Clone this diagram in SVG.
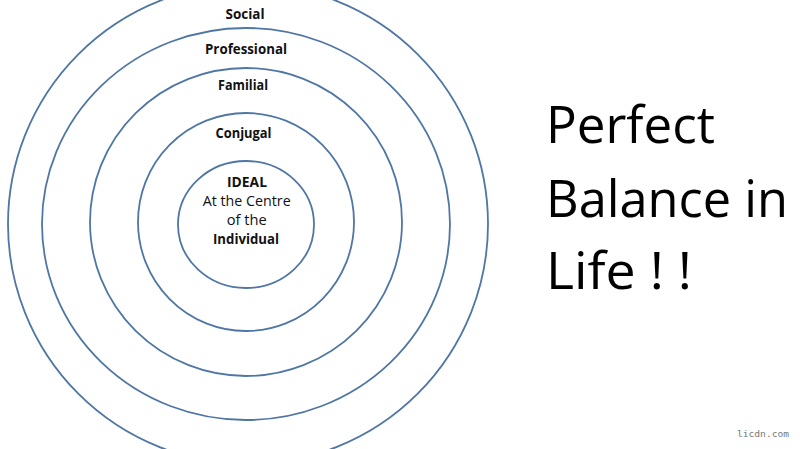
<svg xmlns="http://www.w3.org/2000/svg" width="800" height="449" viewBox="0 0 800 449">
<style>
.ring{fill:none;stroke:#4f76a4;stroke-width:1.8}
.lbl{font-family:"Open Sans","Liberation Sans",sans-serif;font-size:14px;fill:#111;text-anchor:middle}
.b{font-weight:bold}
.big{font-family:"Open Sans","Liberation Sans",sans-serif;font-size:52px;fill:#000}
.wm{font-family:"DejaVu Sans Mono",monospace;font-size:9px;fill:#777}
</style>
<rect width="800" height="449" fill="#fff"/>
<g id="social"><ellipse class="ring" cx="248" cy="224" rx="240" ry="240"/><text class="lbl b" x="245" y="19" textLength="39" lengthAdjust="spacingAndGlyphs">Social</text></g>
<g id="professional"><ellipse class="ring" cx="246" cy="224" rx="204" ry="196"/><text class="lbl b" x="246" y="54" textLength="82" lengthAdjust="spacingAndGlyphs">Professional</text></g>
<g id="familial"><ellipse class="ring" cx="246" cy="222" rx="156" ry="154"/><text class="lbl b" x="243" y="90" textLength="50" lengthAdjust="spacingAndGlyphs">Familial</text></g>
<g id="conjugal"><ellipse class="ring" cx="246" cy="222" rx="108" ry="109"/><text class="lbl b" x="243.5" y="138" textLength="56" lengthAdjust="spacingAndGlyphs">Conjugal</text></g>
<g id="ideal"><ellipse class="ring" cx="246" cy="224.5" rx="68" ry="63.5"/>
<text class="lbl b" x="247" y="187" textLength="40" lengthAdjust="spacingAndGlyphs">IDEAL</text>
<text class="lbl" x="246.7" y="206" textLength="88" lengthAdjust="spacingAndGlyphs">At the Centre</text>
<text class="lbl" x="246.7" y="225" textLength="40" lengthAdjust="spacingAndGlyphs">of the</text>
<text class="lbl b" x="246" y="244" textLength="66" lengthAdjust="spacingAndGlyphs">Individual</text></g>
<g id="title">
<text class="big" x="546" y="143" textLength="169" lengthAdjust="spacingAndGlyphs">Perfect</text>
<text class="big" x="546" y="216.5" textLength="242" lengthAdjust="spacingAndGlyphs">Balance in</text>
<text class="big" x="546" y="289" textLength="146" lengthAdjust="spacingAndGlyphs">Life ! !</text>
</g>
<g id="connectors"/>
<text class="wm" x="737" y="437" textLength="52" lengthAdjust="spacingAndGlyphs">licdn.com</text>
</svg>
